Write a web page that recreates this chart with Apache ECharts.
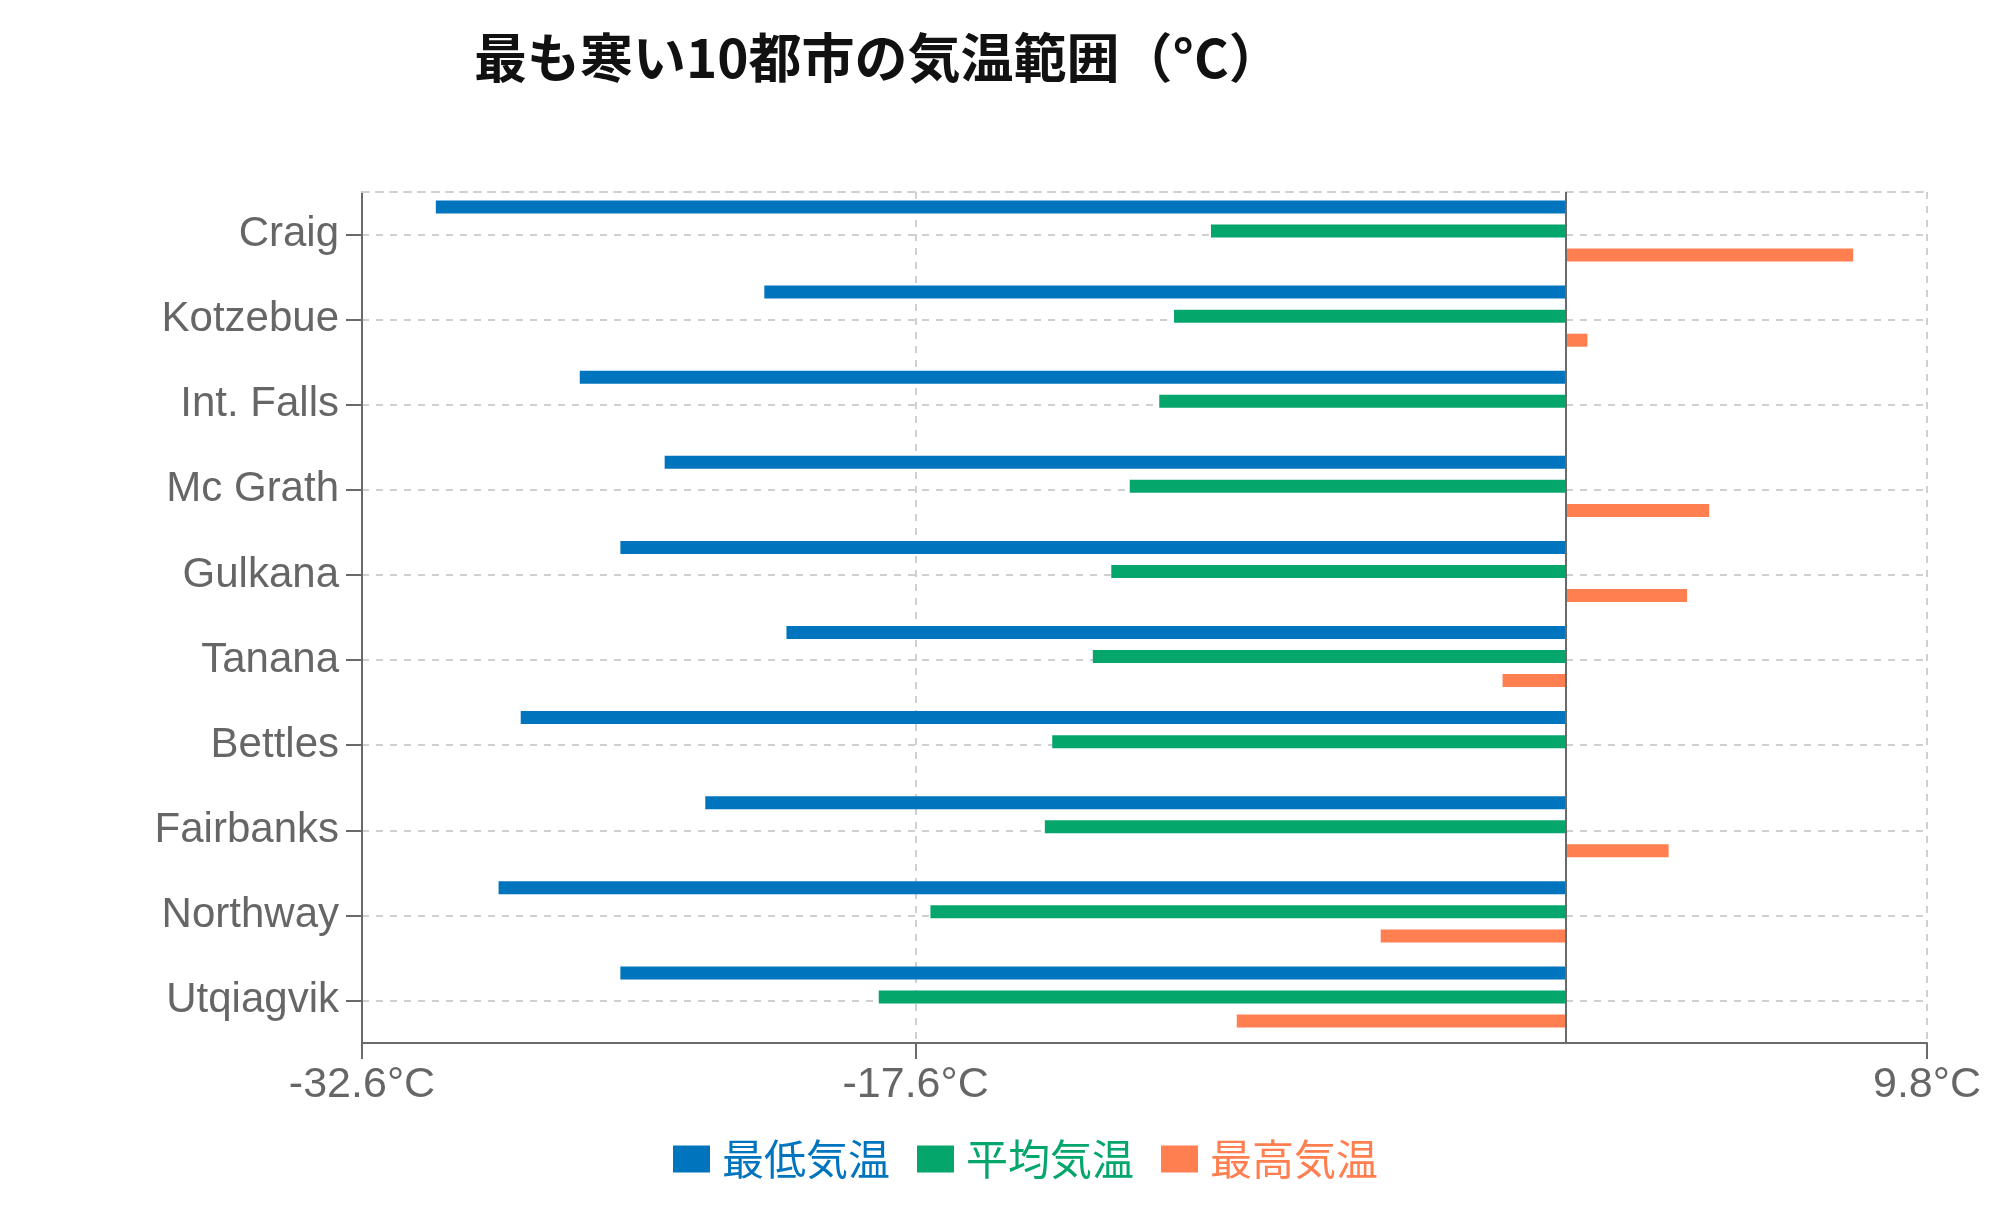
<!DOCTYPE html>
<html>
<head>
<meta charset="utf-8">
<script src="https://cdn.jsdelivr.net/npm/echarts@6/dist/echarts.min.js"></script>
<style>html,body{margin:0;padding:0;background:#fff}#c{width:2000px;height:1228px}</style>
</head>
<body>
<div id="c"></div>
<script>
const categories = ['Craig', 'Kotzebue', 'Int. Falls', 'Mc Grath', 'Gulkana', 'Tanana', 'Bettles', 'Fairbanks', 'Northway', 'Utqiagvik'];
const minTemps = [-30.6, -21.7, -26.7, -24.4, -25.6, -21.1, -28.3, -23.3, -28.9, -25.6];
const avgTemps = [-9.6, -10.6, -11.0, -11.8, -12.3, -12.8, -13.9, -14.1, -17.2, -18.6];
const maxTemps = [7.8, 0.6, 0, 3.9, 3.3, -1.7, 0, 2.8, -5.0, -8.9];
const seriesNames = ['最低気温', '平均気温', '最高気温'];
const xTicks = [-32.6, -17.6, 9.8];
const xMin = -32.6;
const xMax = 9.8;
const titleText = '最も寒い10都市の気温範囲（°C）';

const colors = ['#0174be', '#05a66b', '#ff7f50'];
const latin = "'Liberation Sans', Arial, sans-serif";
const cjk = "'Noto Sans CJK JP', sans-serif";
const gridLine = { type: [7, 7], color: '#d0d0d0', width: 2 };
const axisCol = { color: '#6a6a6a', width: 2 };

const chart = echarts.init(document.getElementById('c'));
const seriesData = [minTemps, avgTemps, maxTemps];

const option = {
  animation: false,
  title: {
    text: titleText, left: 469, top: 26,
    textStyle: { fontFamily: cjk, fontWeight: 'bold', fontSize: 53, color: '#111' }
  },
  legend: {
    left: 668, top: 1133, itemWidth: 37, itemHeight: 27, itemGap: 27, icon: 'rect',
    data: seriesNames.map((n, i) => ({ name: n, textStyle: { color: colors[i] } })),
    textStyle: { fontSize: 42, fontFamily: cjk, padding: [0, 0, 0, 7] }
  },
  grid: [
    { left: 362, right: 73, top: 192, bottom: 185 },
    { left: 362, right: 73, top: 188.5, bottom: 188.5 }
  ],
  xAxis: [
    {
      gridIndex: 0, type: 'value', min: xMin, max: xMax, position: 'bottom',
      axisLine: { show: true, lineStyle: axisCol },
      axisTick: { show: true, length: 16, lineStyle: axisCol, customValues: xTicks },
      axisLabel: { customValues: xTicks, formatter: v => v + '°C', fontSize: 43, color: '#666', margin: 21, fontFamily: latin },
      splitLine: { show: true, lineStyle: gridLine }
    },
    {
      gridIndex: 0, type: 'value', min: xMin, max: xMax, position: 'top',
      axisLine: { show: true, lineStyle: gridLine },
      axisTick: { show: false }, axisLabel: { show: false }, splitLine: { show: false }
    },
    { gridIndex: 1, type: 'value', min: xMin, max: xMax, show: false, splitLine: { show: false } }
  ],
  yAxis: [
    {
      gridIndex: 0, type: 'category', data: categories, inverse: true,
      axisLine: { show: true, onZero: false, lineStyle: axisCol },
      axisTick: { show: true, alignWithLabel: true, length: 16, lineStyle: axisCol },
      axisLabel: { fontSize: 42, color: '#666', margin: 23, fontFamily: latin, padding: [9, 0, 0, 0] },
      splitLine: { show: true, alignWithLabel: true, lineStyle: gridLine }
    },
    { gridIndex: 1, type: 'category', data: categories, inverse: true, show: false }
  ],
  series: seriesNames.map((n, i) => ({
    name: n, type: 'bar', xAxisIndex: 2, yAxisIndex: 1, data: seriesData[i],
    barWidth: 13, barGap: '85%', itemStyle: { color: colors[i] }
  })).concat([{
    type: 'line', xAxisIndex: 0, yAxisIndex: 0, data: [], silent: true,
    markLine: {
      symbol: 'none', silent: true, label: { show: false },
      lineStyle: { color: '#6a6a6a', width: 2, type: 'solid' },
      data: [{ xAxis: 0 }]
    }
  }])
};
chart.setOption(option);
</script>
</body>
</html>
